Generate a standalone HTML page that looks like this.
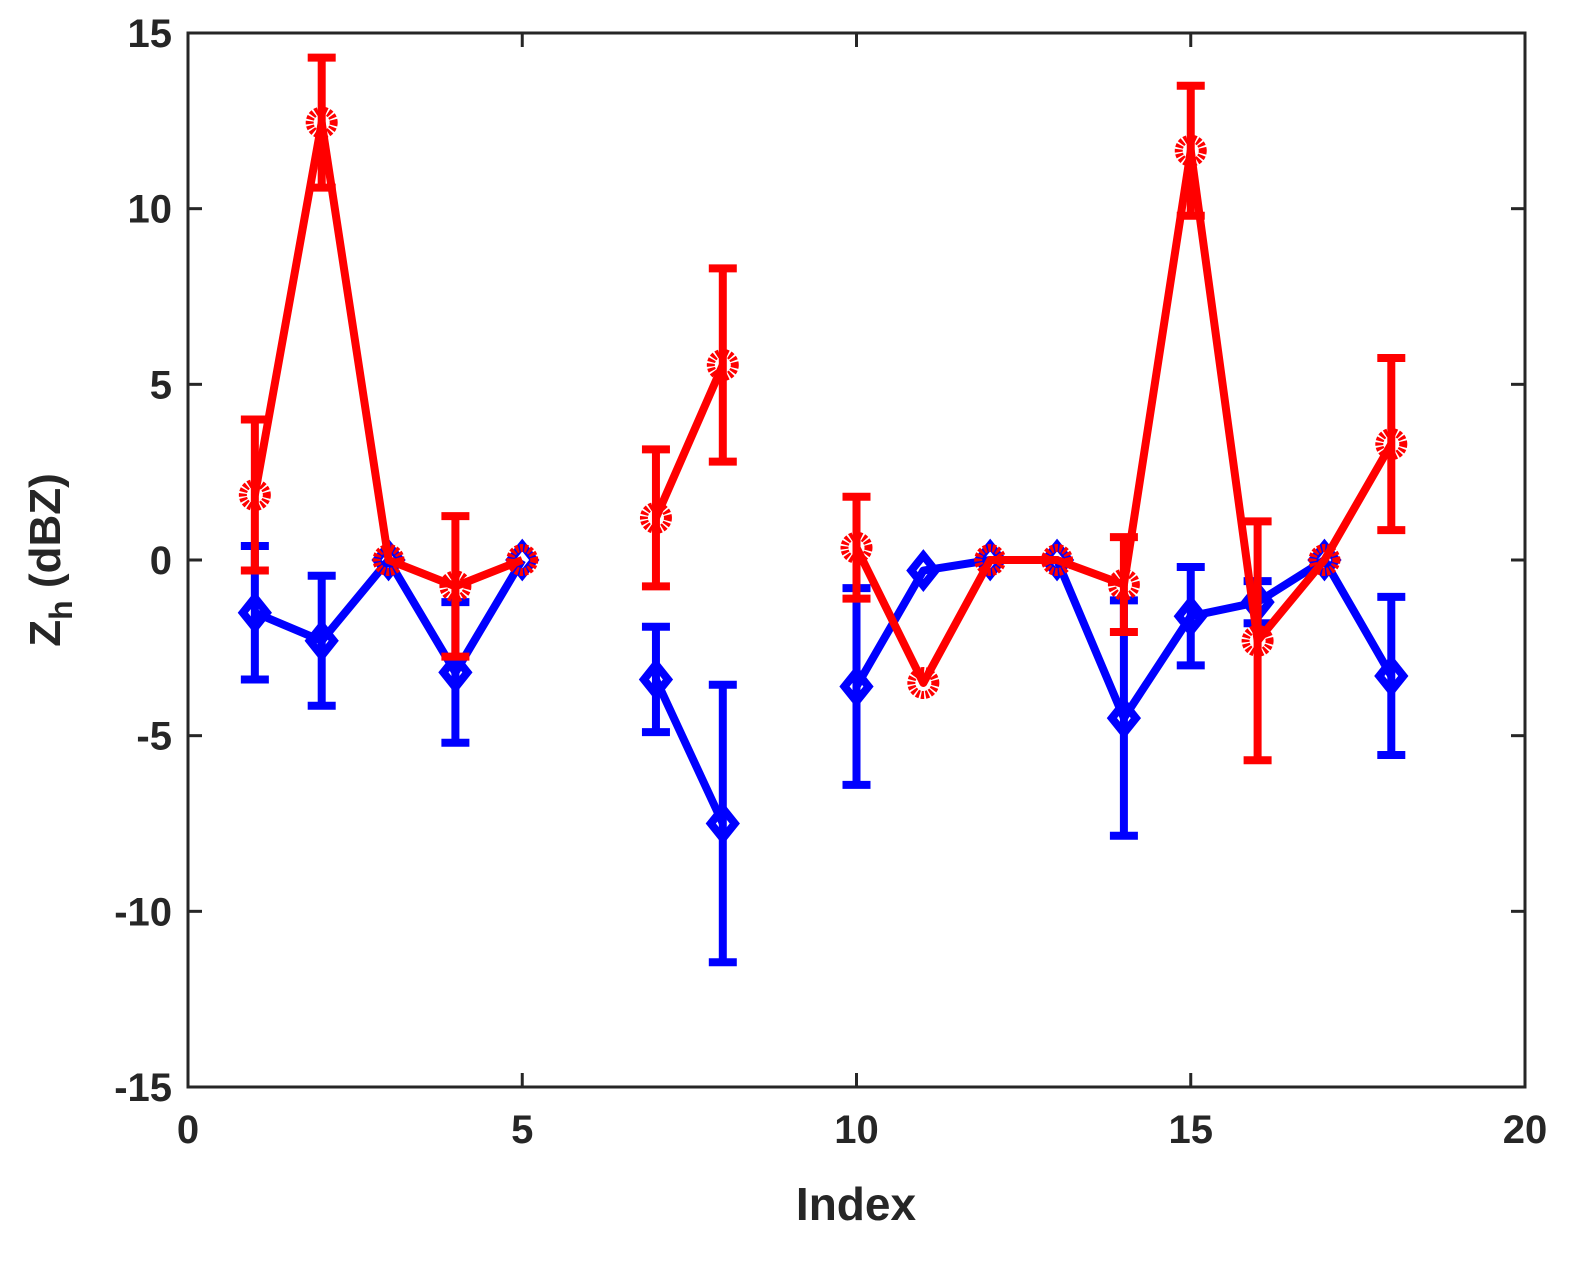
<!DOCTYPE html>
<html><head><meta charset="utf-8"><style>
body{margin:0;background:#fff}
text{font-family:"Liberation Sans",sans-serif;font-weight:bold;fill:#262626}
</style></head><body>
<svg id="chart" width="1591" height="1257" xmlns="http://www.w3.org/2000/svg">
<rect x="0" y="0" width="1591" height="1257" fill="#fff"/>
<g id="axes"></g>
<g id="series"></g>
<text x="856" y="1220" font-size="46" text-anchor="middle">Index</text>
<text transform="translate(60,560) rotate(-90)" font-size="44" text-anchor="middle">Z<tspan font-size="32" dy="12">h</tspan><tspan dy="-12"> (dBZ)</tspan></text>
</svg>
<script>
const xTicks=[0,5,10,15,20];
const yTicks=[-15,-10,-5,0,5,10,15];
const indices=[1,2,3,4,5,6,7,8,9,10,11,12,13,14,15,16,17,18];
const redVals=[1.85,12.45,0,-0.75,0,null,1.2,5.55,null,0.35,-3.5,0,0,-0.7,11.65,-2.3,0,3.3];
const redErr=[2.15,1.85,0,2.0,0,null,1.95,2.75,null,1.45,0,0,0,1.35,1.85,3.4,0,2.45];
const blueVals=[-1.5,-2.3,0,-3.2,0,null,-3.4,-7.5,null,-3.6,-0.3,0,0,-4.5,-1.6,-1.2,0,-3.3];
const blueErr=[1.9,1.85,0,2.0,0,null,1.5,3.95,null,2.8,0,0,0,3.35,1.4,0.6,0,2.25];
const L=188,R=1525,T=33,B=1087;
const X=v=>L+(v-0)/20*(R-L);
const Y=v=>B-(v+15)/30*(B-T);
const NS="http://www.w3.org/2000/svg";
function mk(tag,parent,attrs){const e=document.createElementNS(NS,tag);for(const k in attrs)e.setAttribute(k,attrs[k]);parent.appendChild(e);return e;}
const ax=document.getElementById('axes');
const fr=mk('rect',ax,{x:L,y:T,width:R-L,height:B-T,fill:'none',stroke:'#262626','stroke-width':3});


xTicks.forEach(t=>{
 const g=mk('g',ax,{});
 
 
 mk('line',g,{x1:X(t),x2:X(t),y1:B,y2:B-14,stroke:'#262626','stroke-width':3});
 mk('line',g,{x1:X(t),x2:X(t),y1:T,y2:T+14,stroke:'#262626','stroke-width':3});
 const tx=mk('text',g,{x:X(t),y:B+56,'font-size':40,'text-anchor':'middle'});tx.textContent=t;
});
yTicks.forEach(t=>{
 const g=mk('g',ax,{});
 
 
 mk('line',g,{x1:L,x2:L+14,y1:Y(t),y2:Y(t),stroke:'#262626','stroke-width':3});
 mk('line',g,{x1:R,x2:R-14,y1:Y(t),y2:Y(t),stroke:'#262626','stroke-width':3});
 const tx=mk('text',g,{x:L-16,y:Y(t)+14,'font-size':40,'text-anchor':'end'});tx.textContent=t;
});
const S=document.getElementById('series');
function drawSeries(name,vals,errs,color,marker){
 const g=mk('g',S,{});
 
 
 let segs=[],cur=[];
 vals.forEach((v,i)=>{if(v===null){if(cur.length)segs.push(cur);cur=[];}else cur.push(X(indices[i])+','+Y(v));});
 if(cur.length)segs.push(cur);
 segs.forEach(s=>{const p=mk('polyline',g,{points:s.join(' '),fill:'none',stroke:color,'stroke-width':8,'stroke-linejoin':'round'});
  
  });
 vals.forEach((v,i)=>{
  if(v===null)return;
  const x=X(indices[i]),y=Y(v),e=errs[i];
  if(e>0){
   const eb=mk('g',g,{});
   
   
   mk('line',eb,{x1:x,x2:x,y1:Y(v+e),y2:Y(v-e),stroke:color,'stroke-width':8});
   mk('line',eb,{x1:x-14,x2:x+14,y1:Y(v+e),y2:Y(v+e),stroke:color,'stroke-width':8});
   mk('line',eb,{x1:x-14,x2:x+14,y1:Y(v-e),y2:Y(v-e),stroke:color,'stroke-width':8});
  }
  let m;
  if(marker==='circle')m=mk('circle',g,{cx:x,cy:y,r:12,fill:'none',stroke:color,'stroke-width':8,'stroke-dasharray':'3 1.5'});
  else m=mk('polygon',g,{points:`${x},${y-15} ${x+12},${y} ${x},${y+15} ${x-12},${y}`,fill:'none',stroke:color,'stroke-width':8});
  
  
 });
}
drawSeries('blue',blueVals,blueErr,'#0000ff','diamond');
drawSeries('red',redVals,redErr,'#ff0000','circle');
</script>
</body></html>
